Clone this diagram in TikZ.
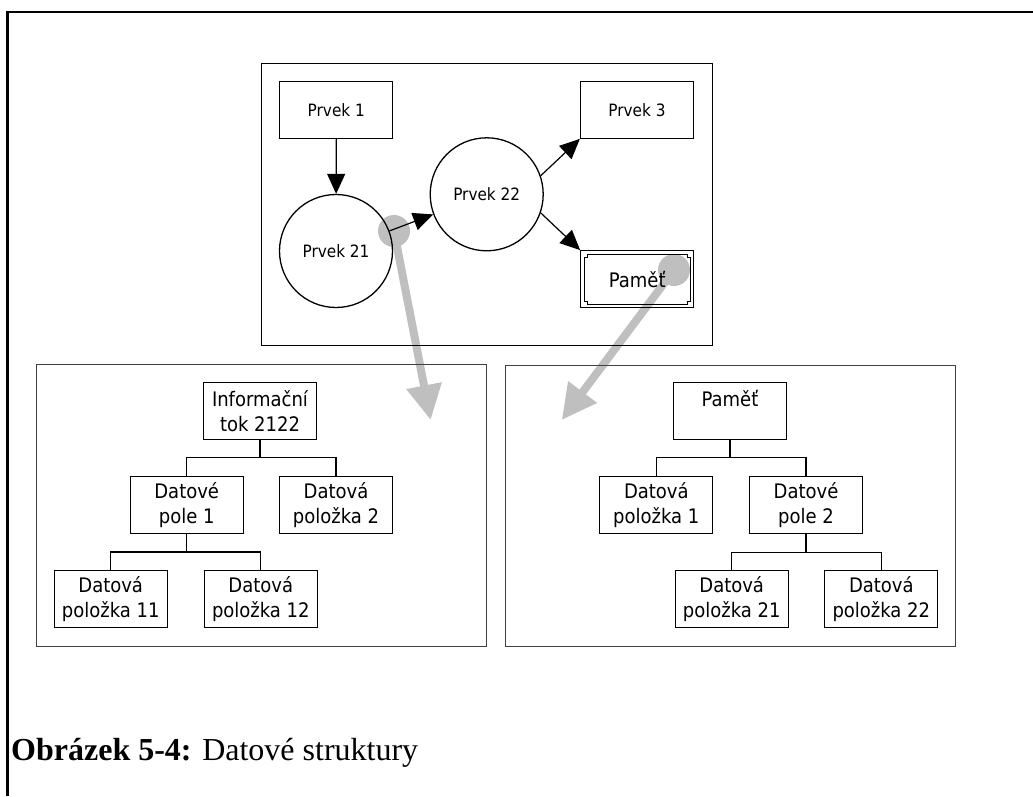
\documentclass[tikz,border=0pt]{standalone}
\usepackage{fontspec}
\setmainfont{Liberation Serif}
\newfontfamily\diafont{DejaVu Sans Condensed}
\usetikzlibrary{arrows.meta}
\pgfdeclarelayer{background}
\pgfsetlayers{background,main}

\begin{document}
\begin{tikzpicture}[x=1pt, y=-1pt,
	box/.style={draw, line width=1.3pt, minimum width=113pt, minimum height=57pt, inner sep=0pt, align=center, font=\diafont\fontsize{20}{25}\selectfont},
	elem/.style={box, font=\diafont\fontsize{17}{21}\selectfont},
	proc/.style={draw, circle, line width=1.3pt, minimum size=113pt, inner sep=0pt, font=\diafont\fontsize{17}{21}\selectfont},
	panel/.style={draw=black!75, line width=1pt},
	flow/.style={line width=1.2pt, -{Triangle[length=20pt, width=18pt]}},
	detail/.style={draw=black!25, line width=8pt, -{Triangle[length=35pt, width=34pt]}},
	tree/.style={line width=1.3pt}]

		\useasboundingbox (0,0) rectangle (1033,796);
		\draw[line width=2.7pt] (7.5,796) -- (7.5,12) -- (1033,12);

		\draw[panel, draw=black] (261.5,63.3) rectangle (712.3,345);
		\draw[panel] (36,364) rectangle (486.7,646);
		\draw[panel] (505.3,365) rectangle (955.7,646.7);

		\node[elem] (prvek1) at (336.3,109.7) {Prvek 1};
		\node[elem] (prvek3) at (637.0,109.7) {Prvek 3};
		\node[proc] (prvek21) at (336.0,251.0) {Prvek 21};
		\node[proc] (prvek22) at (486.7,194.3) {Prvek 22};
		\node[box]  (pamet) at (637.3,279.3) {Paměť};
		\draw[line width=1pt] (587.5,254.5) -- (687.5,254.5) -- (687.5,257.5) -- (690.5,257.5) -- (690.5,301) -- (687.5,301) -- (687.5,304) -- (587.5,304) -- (587.5,301) -- (584.5,301) -- (584.5,257.5) -- (587.5,257.5) -- cycle;

		\draw[flow] (prvek1) to (prvek21);
		\draw[flow] (prvek21) to (prvek22);
		\draw[flow] (prvek22.19) to (prvek3.south west);
		\draw[flow] (prvek22.-19) to (pamet.north west);

		\node[box] (tok) at (260.0,411.3) {Informační\\tok 2122};
		\node[box] (pole1) at (186.7,505.0) {Datové\\pole 1};
		\node[box] (polozka2) at (336.0,505.0) {Datová\\položka 2};
		\node[box] (polozka11) at (110.7,598.7) {Datová\\položka 11};
		\node[box] (polozka12) at (260.8,598.7) {Datová\\položka 12};

		\draw[tree] (tok.south) -- ++(0,17) -| (pole1.north);
		\draw[tree] (tok.south) -- ++(0,17) -| (polozka2.north);
		\draw[tree] (pole1.south) -- ++(0,17.7) -| (polozka11.north);
		\draw[tree] (pole1.south) -- ++(0,17.7) -| (polozka12.north);

		\node[box] (pamet2) at (730.0,411.3) {Paměť\\~};
		\node[box] (polozka1) at (656.3,505.3) {Datová\\položka 1};
		\node[box] (pole2) at (806.0,505.3) {Datové\\pole 2};
		\node[box] (polozka21) at (731.7,599.0) {Datová\\položka 21};
		\node[box] (polozka22) at (881.3,599.0) {Datová\\položka 22};

		\draw[tree] (pamet2.south) -- ++(0,17) -| (polozka1.north);
		\draw[tree] (pamet2.south) -- ++(0,17) -| (pole2.north);
		\draw[tree] (pole2.south) -- ++(0,18.3) -| (polozka21.north);
		\draw[tree] (pole2.south) -- ++(0,18.3) -| (polozka22.north);

		\coordinate (src1) at (394,231);
		\coordinate (src2) at (674,270);
		\coordinate (dst1) at (430.7,420);
		\coordinate (dst2) at (561.7,420);
		\begin{pgfonlayer}{background}
			\fill[black!25] (src1) circle (16pt); \draw[detail] (src1) to (dst1);
			\fill[black!25] (src2) circle (16pt); \draw[detail] (src2) to (dst2);
		\end{pgfonlayer}

		\node[anchor=base west, inner sep=0pt, font=\fontsize{32}{38}\selectfont] (caption) at (11,760) {\textbf{Obrázek 5-4:} Datové struktury};

	\end{tikzpicture}
\end{document}
